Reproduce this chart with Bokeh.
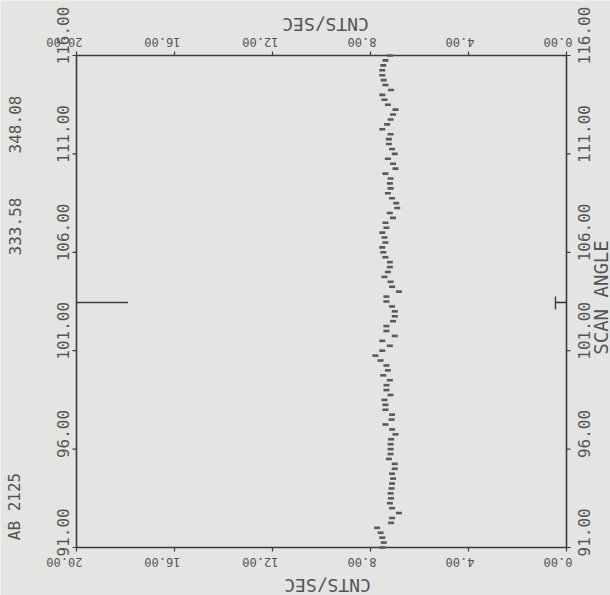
import math
from bokeh.plotting import figure
from bokeh.models import Range1d, ColumnDataSource
from bokeh.core.properties import value
from bokeh.embed import file_html
from bokeh.resources import INLINE

# ---------------- data ----------------
scan_angle = [
    116.00, 115.75, 115.50, 115.25, 115.00, 114.75, 114.50, 114.25, 114.00, 113.75,
    113.50, 113.25, 113.00, 112.75, 112.50, 112.25, 112.00, 111.75, 111.50, 111.25,
    111.00, 110.75, 110.50, 110.25, 110.00, 109.75, 109.50, 109.25, 109.00, 108.75,
    108.50, 108.25, 108.00, 107.75, 107.50, 107.25, 107.00, 106.75, 106.50, 106.25,
    106.00, 105.75, 105.50, 105.25, 105.00, 104.75, 104.50, 104.25, 104.00, 103.75,
    103.50, 103.25, 103.00, 102.75, 102.50, 102.25, 102.00, 101.75, 101.50, 101.25,
    101.00, 100.75, 100.50, 100.25, 100.00, 99.75, 99.50, 99.25, 99.00, 98.75,
    98.50, 98.25, 98.00, 97.75, 97.50, 97.25, 97.00, 96.75, 96.50, 96.25,
    96.00, 95.75, 95.50, 95.25, 95.00, 94.75, 94.50, 94.25, 94.00, 93.75,
    93.50, 93.25, 93.00, 92.75, 92.50, 92.25, 92.00, 91.75, 91.50, 91.25,
    91.00,
]
cnts_per_sec = [
    7.21, 7.39, 7.48, 7.52, 7.52, 7.46, 7.39, 7.16, 7.52, 7.43,
    7.29, 6.98, 7.08, 7.18, 7.32, 7.52, 7.18, 7.25, 7.25, 7.12,
    7.01, 7.29, 7.08, 6.98, 7.39, 7.18, 7.21, 7.18, 7.29, 7.12,
    6.95, 6.91, 7.21, 7.08, 7.39, 7.35, 7.52, 7.43, 7.39, 7.52,
    7.48, 7.39, 7.21, 7.21, 7.29, 7.43, 7.18, 7.12, 6.84,
    7.35, 7.35, 7.12, 7.01, 7.01, 7.08, 7.35, 7.35, 7.01, 7.52,
    7.21, 7.52, 7.80, 7.59, 7.35, 7.29, 7.48, 7.21, 7.35, 7.35,
    7.18, 7.43, 7.39, 7.39, 7.12, 7.14, 7.39, 7.12, 6.98, 7.16,
    7.18, 7.18, 7.18, 7.25, 7.01, 7.01, 7.12, 7.08, 7.12, 7.14,
    7.18, 7.16, 7.21, 7.12, 6.84, 7.12, 7.16, 7.73, 7.59,
    7.52, 7.46, 7.52,
]
cnts_ticks = [0, 4, 8, 12, 16, 20]
cnts_labels = ["0.00", "4.00", "8.00", "12.00", "16.00", "20.00"]
angle_ticks = [91, 96, 101, 106, 111, 116]
angle_labels = ["91.00", "96.00", "101.00", "106.00", "111.00", "116.00"]
cnts_limits = [20, 0]
angle_limits = [91, 116]
marker_angle = 103.45
marker_left = [20.0, 17.9]
marker_right = [0.45, 0.0]
x_title = "CNTS/SEC"
y_title = "SCAN ANGLE"
side_texts = ["348.08", "333.58", "AB 2125"]

# ---------------- layout helpers (pixel -> data) ----------------
W, H = 610, 595
FX0, FX1 = 76.0, 566.0   # frame px for x = 20 .. 0
FY0, FY1 = 55.0, 547.0   # frame px for y = 116 .. 91
def px2x(px):
    return 20.0 - (px - FX0) * 20.0 / (FX1 - FX0)
def x2px(x):
    return FX0 + (20.0 - x) * (FX1 - FX0) / 20.0
def py2y(py):
    return 116.0 - (py - FY0) * 25.0 / (FY1 - FY0)
def y2py(y):
    return FY0 + (116.0 - y) * (FY1 - FY0) / 25.0

BG = "#e4e4e2"
INK = "#3a3a3a"
TXT = "#555555"
FONT = "DejaVu Sans Mono"

p = figure(width=W, height=H,
           x_range=Range1d(px2x(0), px2x(W)), y_range=Range1d(py2y(H), py2y(0)),
           x_axis_location=None, y_axis_location=None,
           output_backend="svg", toolbar_location=None, min_border=0)
p.background_fill_color = BG
p.border_fill_color = BG
p.outline_line_color = None
p.grid.visible = False

xa, xb = cnts_limits
ya, yb = angle_limits

# frame box
p.line([xa, xb, xb, xa, xa], [yb, yb, ya, ya, yb], line_color=INK, line_width=1.6)

# outward ticks
tick_x0, tick_x1, tick_y0, tick_y1 = [], [], [], []
for v in cnts_ticks:
    tick_x0 += [v, v]
    tick_x1 += [v, v]
    tick_y0 += [yb, ya]
    tick_y1 += [py2y(FY0 - 4), py2y(FY1 + 4)]
for t in angle_ticks:
    tick_x0 += [xa, xb]
    tick_x1 += [px2x(FX0 - 4), px2x(FX1 + 4)]
    tick_y0 += [t, t]
    tick_y1 += [t, t]
p.segment(tick_x0, tick_y0, tick_x1, tick_y1, line_color=INK, line_width=1.2)

# data points
p.scatter(cnts_per_sec, scan_angle, marker="dash", size=6, line_width=2.6,
          line_color="#5a5a5a")

# marker segments at the scan angle
p.line(marker_left, [marker_angle, marker_angle], line_color=INK, line_width=1.6)
p.line(marker_right, [marker_angle, marker_angle], line_color=INK, line_width=1.6)
p.line([marker_right[0], marker_right[0]], [py2y(296), py2y(309)], line_color=INK, line_width=1.4)

def add_texts(texts, xs, ys, angle, size, align="center"):
    src = ColumnDataSource(dict(x=xs, y=ys, text=texts))
    p.text(x="x", y="y", text="text", source=src, angle=angle, text_align=align,
           text_baseline="middle", text_font=value(FONT),
           text_font_size=value(size), text_color=TXT)

# horizontal-axis tick labels (upside down), bottom and top
hx = [px2x(x2px(v) + 6) for v in cnts_ticks]
add_texts(cnts_labels, hx, [py2y(562)] * len(hx), math.pi, "12px", "left")
add_texts(cnts_labels, hx, [py2y(42)] * len(hx), math.pi, "12px", "left")

# vertical-axis tick labels (bottom-to-top), left and right
vy = [py2y(y2py(t) + 9) for t in angle_ticks]
add_texts(angle_labels, [px2x(62)] * len(vy), vy, math.pi / 2, "16px", "left")
add_texts(angle_labels, [px2x(583)] * len(vy), vy, math.pi / 2, "16px", "left")

# axis titles
add_texts([x_title, x_title], [px2x(327), px2x(325)], [py2y(585), py2y(24)], math.pi, "18px")
add_texts([y_title], [px2x(600)], [py2y(297)], math.pi / 2, "19px")

# side annotations
add_texts(side_texts, [px2x(14)] * 3, [py2y(124), py2y(226), py2y(506)], math.pi / 2, "16px")

open("out.html", "w").write(file_html(p, INLINE))
